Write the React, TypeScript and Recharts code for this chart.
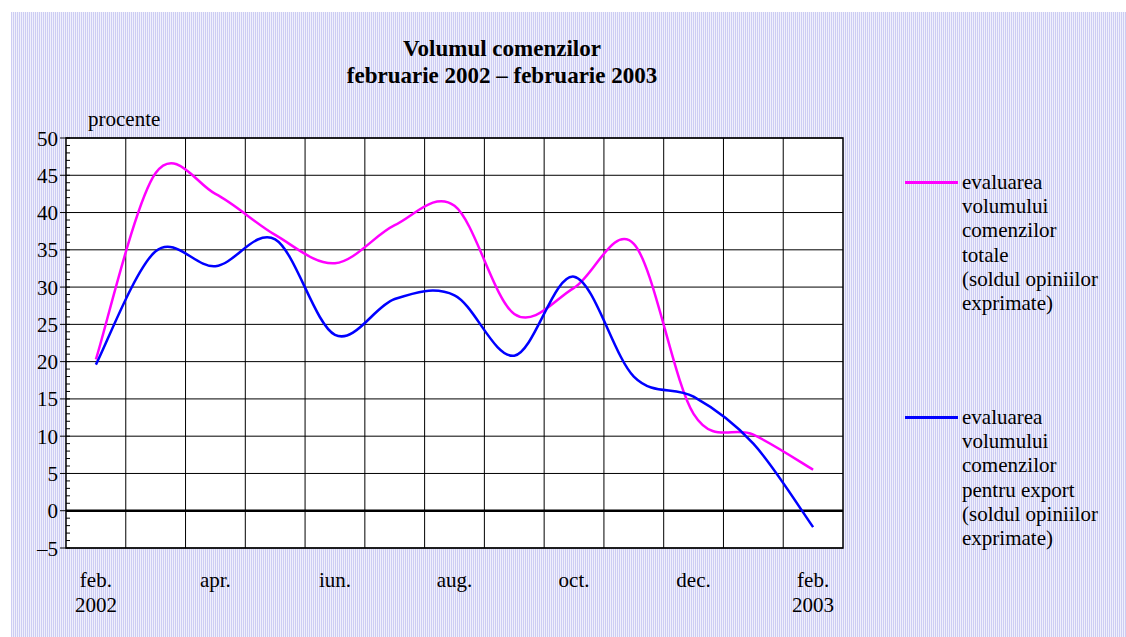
import React from "react"
import { LineChart, Line, XAxis, YAxis, CartesianGrid, ReferenceLine, ReferenceArea, Legend } from "recharts"

const SERIF = "'Liberation Serif', 'Times New Roman', serif"

const months = ["feb.", "mar.", "apr.", "mai", "iun.", "iul.", "aug.", "sep.", "oct.", "nov.", "dec.", "ian.", "feb."]
const years = ["2002", "", "", "", "", "", "", "", "", "", "", "", "2003"]
const totalOrders = [20.3, 45.3, 42.5, 37.0, 33.2, 38.3, 40.9, 26.4, 29.9, 35.8, 13.0, 10.2, 5.5]
const exportOrders = [19.6, 34.8, 32.8, 36.4, 23.6, 28.4, 28.9, 20.8, 31.4, 18.0, 15.3, 9.0, -2.2]

const xTicks = [0, 2, 4, 6, 8, 10, 12]
const monthBoundaries = [0.5, 1.5, 2.5, 3.5, 4.5, 5.5, 6.5, 7.5, 8.5, 9.5, 10.5, 11.5]
const yMajorTicks = [-5, 0, 5, 10, 15, 20, 25, 30, 35, 40, 45, 50]
const yMinorTicks = Array.from({ length: 56 }, (_, i) => i - 5)

const seriesOrder = ["total", "export"]
const legendLines: Record<string, string[]> = {
  total: ["evaluarea", "volumului", "comenzilor", "totale", "(soldul opiniilor", "exprimate)"],
  export: ["evaluarea", "volumului", "comenzilor", "pentru export", "(soldul opiniilor", "exprimate)"],
}

const data = months.map((m, i) => ({
  idx: i,
  month: m,
  year: years[i],
  total: totalOrders[i],
  export: exportOrders[i],
}))

// excel style smoothed line (catmull-rom through the points)
const excelSmooth: any = (context: any) => {
  let pts: number[][] = []
  return {
    areaStart() {},
    areaEnd() {},
    lineStart() {
      pts = []
    },
    point(x: number, y: number) {
      pts.push([+x, +y])
    },
    lineEnd() {
      const n = pts.length
      if (!n) return
      context.moveTo(pts[0][0], pts[0][1])
      for (let i = 0; i < n - 1; i++) {
        const p0 = pts[Math.max(i - 1, 0)]
        const p1 = pts[i]
        const p2 = pts[i + 1]
        const p3 = pts[Math.min(i + 2, n - 1)]
        context.bezierCurveTo(
          p1[0] + (p2[0] - p0[0]) / 6,
          p1[1] + (p2[1] - p0[1]) / 6,
          p2[0] - (p3[0] - p1[0]) / 6,
          p2[1] - (p3[1] - p1[1]) / 6,
          p2[0],
          p2[1]
        )
      }
    },
  }
}

const YTick = (props: any) => {
  const { x, y, payload } = props
  const v = payload.value
  const major = v % 5 === 0
  return (
    <g>
      <line x1={major ? x - 6 : x} x2={x + 4} y1={y} y2={y} stroke="#000" strokeWidth={1} />
      {major && (
        <text x={x - 8} y={y} dy="0.36em" textAnchor="end" fontSize={21} fontFamily={SERIF} fill="#000">
          {v < 0 ? "\u2013" + Math.abs(v) : v}
        </text>
      )}
    </g>
  )
}

const XTick = (props: any) => {
  const { x, y, payload } = props
  const d = data[payload.value]
  return (
    <g>
      <text x={x} y={y + 39} textAnchor="middle" fontSize={21} fontFamily={SERIF} fill="#000">
        {d.month}
      </text>
      {d.year && (
        <text x={x} y={y + 64} textAnchor="middle" fontSize={21} fontFamily={SERIF} fill="#000">
          {d.year}
        </text>
      )}
    </g>
  )
}

const LegendBlock = (props: any) => {
  const items = [...(props.payload || [])].sort(
    (a: any, b: any) => seriesOrder.indexOf(a.dataKey) - seriesOrder.indexOf(b.dataKey)
  )
  return (
    <div style={{ position: "relative", width: 220, height: 400 }}>
      {items.map((item: any, i: number) => (
        <div key={item.dataKey} style={{ position: "absolute", left: 0, top: i * 235, display: "flex" }}>
          <div style={{ width: 53, height: 2.5, background: item.color, marginTop: 11 }} />
          <div style={{ marginLeft: 4, fontFamily: SERIF, fontSize: 21, lineHeight: "24.2px", color: "#000", textAlign: "left" }}>
            {legendLines[item.dataKey].map((t) => (
              <div key={t}>{t}</div>
            ))}
          </div>
        </div>
      ))}
    </div>
  )
}

export default function App() {
  return (
    <div style={{ position: "absolute", left: 0, top: 0, width: 1126, height: 637, background: "#fff", overflow: "hidden" }}>
      <div
        style={{
          position: "absolute",
          left: 11,
          top: 12,
          right: 0,
          bottom: 0,
          background: "repeating-linear-gradient(90deg, #cdcdf3 0px, #cdcdf3 1px, #f0f0fc 1px, #f0f0fc 2px)",
        }}
      />
      <div
        style={{
          position: "absolute",
          left: 302,
          width: 400,
          top: 35,
          textAlign: "center",
          fontFamily: SERIF,
          fontWeight: "bold",
          fontSize: 23,
          lineHeight: "27px",
          color: "#000",
        }}
      >
        <div>Volumul comenzilor</div>
        <div>februarie 2002 – februarie 2003</div>
      </div>
      <div style={{ position: "absolute", left: 88, top: 109, fontFamily: SERIF, fontSize: 21, lineHeight: "21px", color: "#000" }}>
        procente
      </div>
      <div style={{ position: "absolute", left: 0, top: 0 }}>
        <LineChart width={1126} height={637} data={data} margin={{ top: 138, right: 283, bottom: 29, left: 30 }}>
          <CartesianGrid
            verticalValues={monthBoundaries}
            horizontalValues={yMajorTicks}
            stroke="#000"
            strokeWidth={1}
            fill="#fff"
            fillOpacity={1}
          />
          <XAxis
            dataKey="idx"
            type="number"
            domain={[-0.5, 12.5]}
            ticks={xTicks}
            interval={0}
            axisLine={false}
            tickLine={false}
            tickSize={0}
            tickMargin={0}
            height={60}
            tick={<XTick />}
          />
          <YAxis
            domain={[-5, 50]}
            ticks={yMinorTicks}
            interval={0}
            axisLine={false}
            tickLine={false}
            tickSize={0}
            tickMargin={0}
            width={36}
            tick={<YTick />}
          />
          <ReferenceLine y={0} stroke="#000" strokeWidth={2.5} />
          <ReferenceArea x1={-0.5} x2={12.5} y1={-5} y2={50} fill="none" stroke="#000" strokeWidth={1.5} />
          <Line
            type={excelSmooth}
            dataKey="total"
            name="total"
            stroke="#ff00ff"
            strokeWidth={2.5}
            dot={false}
            isAnimationActive={false}
          />
          <Line
            type={excelSmooth}
            dataKey="export"
            name="export"
            stroke="#0000ff"
            strokeWidth={2.5}
            dot={false}
            isAnimationActive={false}
          />
          <Legend
            layout="vertical"
            align="center"
            verticalAlign="middle"
            content={<LegendBlock />}
            wrapperStyle={{ left: 905, top: 170, width: 220, height: 420 }}
          />
        </LineChart>
      </div>
    </div>
  )
}
